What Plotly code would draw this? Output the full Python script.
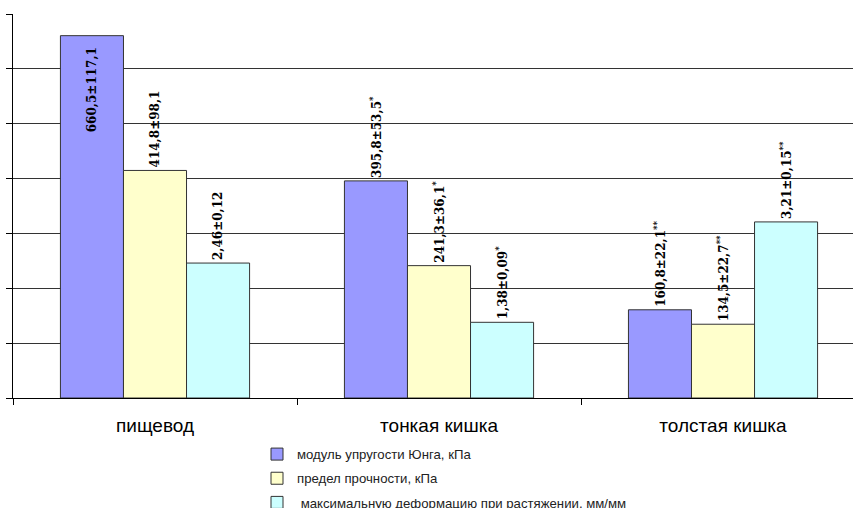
import plotly.graph_objects as go

# Categories (sections of the gastrointestinal tract)
categories = ["пищевод", "тонкая кишка", "толстая кишка"]

# Series values
young_modulus = [660.5, 395.8, 160.8]       # kPa
tensile_strength = [414.8, 241.3, 134.5]    # kPa
max_strain = [2.46, 1.38, 3.21]             # mm/mm

# Value labels (mean ± SD, significance marks)
young_labels = ["660,5±117,1&nbsp;&nbsp;", "395,8±53,5<sup>*</sup>", "160,8±22,1<sup>**</sup>"]
strength_labels = ["414,8±98,1", "241,3±36,1<sup>*</sup>", "134,5±22,7<sup>**</sup>"]
strain_labels = ["2,46±0,12", "1,38±0,09<sup>*</sup>", "3,21±0,15<sup>**</sup>"]

series_names = [
    "модуль упругости Юнга, кПа",
    "предел прочности, кПа",
    " максимальную деформацию при растяжении, мм/мм",
]

colors = ["#9999FF", "#FFFFCC", "#CCFFFF"]
edge = "#333333"
label_font = dict(family="DejaVu Serif", size=12, color="#000000")
bar_w = 0.222

fig = go.Figure()

fig.add_trace(go.Bar(
    x=categories, y=young_modulus, name=series_names[0],
    width=bar_w, offset=-1.5 * bar_w,
    marker=dict(color=colors[0], line=dict(color=edge, width=1)),
    text=young_labels, textangle=-90,
    textposition=["inside", "outside", "outside"], insidetextanchor="end",
    insidetextfont=label_font, outsidetextfont=label_font,
    texttemplate="<b>%{text}</b>", constraintext="none", cliponaxis=False,
    legendgroup="a", hoverinfo="skip",
))

fig.add_trace(go.Bar(
    x=categories, y=tensile_strength, name=series_names[1],
    width=bar_w, offset=-0.5 * bar_w,
    marker=dict(color=colors[1], line=dict(color=edge, width=1)),
    text=strength_labels, textangle=-90, textposition="outside",
    outsidetextfont=label_font,
    texttemplate="<b>%{text}</b>", constraintext="none", cliponaxis=False,
    legendgroup="b", hoverinfo="skip",
))

# Strain is on its own (hidden) axis scaled so 1 mm/mm spans the same height as 100 kPa
fig.add_trace(go.Bar(
    x=categories, y=max_strain, name=series_names[2], yaxis="y2",
    width=bar_w, offset=0.5 * bar_w,
    marker=dict(color=colors[2], line=dict(color=edge, width=1)),
    text=strain_labels, textangle=-90, textposition="outside",
    outsidetextfont=label_font,
    texttemplate="<b>%{text}</b>", constraintext="none", cliponaxis=False,
    legendgroup="c", hoverinfo="skip",
))

fig.update_layout(
    width=853, height=508,
    margin=dict(l=13, r=0, t=14, b=110, autoexpand=False),
    paper_bgcolor="white", plot_bgcolor="white",
    barmode="overlay",
    showlegend=True,
    legend=dict(
        orientation="v",
        xref="container", yref="container",
        x=257 / 853, y=1 - 439 / 508, xanchor="left", yanchor="top",
        font=dict(family="Liberation Sans", size=13.2, color="#222222"),
        tracegroupgap=4, traceorder="grouped",
        bgcolor="rgba(0,0,0,0)",
    ),
    xaxis=dict(
        type="category",
        range=[-0.5, 2.4577],
        showline=True, linecolor="#000000", linewidth=1,
        ticks="outside", ticklen=6, tickcolor="#000000", tickson="boundaries",
        tickangle=0, ticklabelstandoff=10,
        showgrid=False,
        tickfont=dict(family="Liberation Sans", size=19, color="#000000"),
    ),
    yaxis=dict(
        range=[0, 700], dtick=100,
        showticklabels=False,
        showline=True, linecolor="#000000", linewidth=1,
        ticks="outside", ticklen=6, tickcolor="#000000",
        showgrid=True, gridcolor="#333333", gridwidth=1,
        zeroline=False,
    ),
    yaxis2=dict(
        range=[0, 7], overlaying="y", visible=False, showgrid=False,
    ),
)

fig.write_html("out.html")
